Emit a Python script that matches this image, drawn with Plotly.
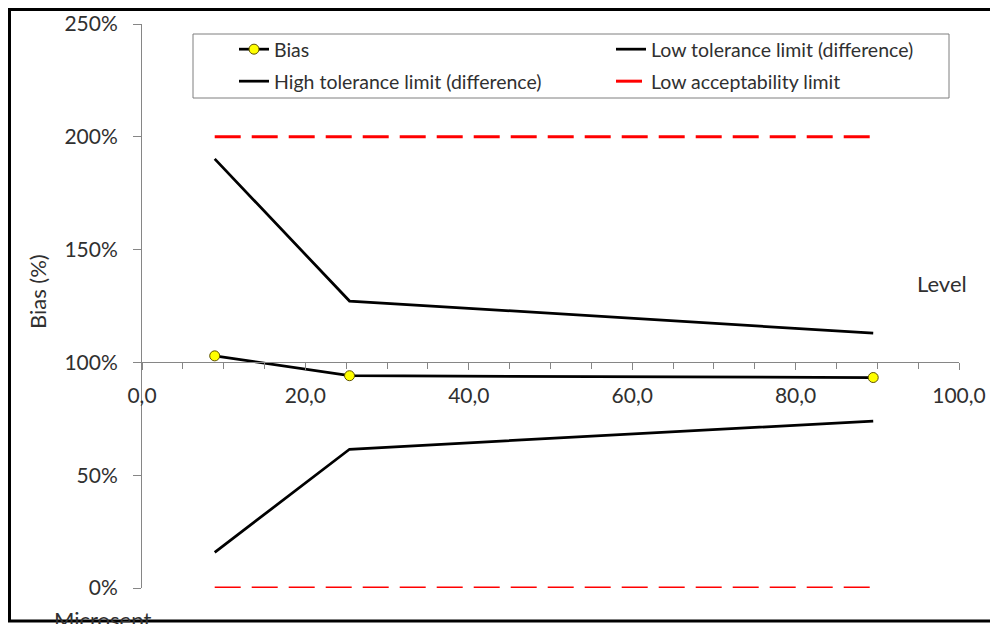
import plotly.graph_objects as go

# ---- data ----
levels = [8.9, 25.4, 89.5]
bias = [102.9, 94.1, 93.3]
high_tol = [190.2, 127.2, 113.0]
low_tol = [15.8, 61.5, 74.0]
low_acc = [0, 0, 0]
high_acc = [200, 200, 200]
x_ticks = [0, 20, 40, 60, 80, 100]
y_ticks = [0, 50, 100, 150, 200, 250]
y_tick_labels = ["0%", "50%", "100%", "150%", "200%", "250%"]

FONT = "Lato"
OFF = 8                     # page body margin
W, H = 998 - OFF, 624 - OFF
ML, MR, MT, MB = 142 - OFF, 39, 24 - OFF, 36
PW, PH = W - ML - MR, H - MT - MB


def px(xp):
    """page x pixel -> paper fraction"""
    return (xp - OFF - ML) / PW


def py(yp):
    """page y pixel -> paper fraction"""
    return (H - MB - (yp - OFF)) / PH


fig = go.Figure()
fig.add_trace(go.Scatter(
    x=levels, y=bias, name="Bias", mode="lines+markers", legend="legend",
    line=dict(color="black", width=2.75),
    marker=dict(size=10, color="#FFFF00", line=dict(color="#5e5200", width=1)),
))
fig.add_trace(go.Scatter(
    x=levels, y=low_tol, name="Low tolerance limit (difference)", mode="lines",
    legend="legend",
    line=dict(color="black", width=2.75),
))
fig.add_trace(go.Scatter(
    x=levels, y=high_tol, name="High tolerance limit (difference)", mode="lines",
    legend="legend2",
    line=dict(color="black", width=2.75),
))
fig.add_trace(go.Scatter(
    x=levels, y=low_acc, name="Low acceptability limit", mode="lines",
    legend="legend2",
    line=dict(color="#FF0000", width=3, dash="26px,11px"),
))
fig.add_trace(go.Scatter(
    x=levels, y=high_acc, name="High acceptability limit", mode="lines",
    line=dict(color="#FF0000", width=3, dash="26px,11px"), showlegend=False,
))

axis_col = "#868686"
txt_col = "#303030"

leg_common = dict(
    orientation="h", xanchor="left", yanchor="top",
    entrywidth=332, entrywidthmode="pixels",
    font=dict(size=19.5, color=txt_col, family=FONT),
    bgcolor="rgba(0,0,0,0)", borderwidth=0,
)

fig.update_layout(
    width=W, height=H,
    margin=dict(l=ML, r=MR, t=MT, b=MB, pad=0, autoexpand=False),
    paper_bgcolor="white", plot_bgcolor="white",
    separators=",.",
    font=dict(family=FONT, size=20, color=txt_col),
    xaxis=dict(
        range=[0, 100], tickvals=x_ticks, tickformat=".1f",
        showgrid=False, zeroline=False,
        showline=True, linecolor=axis_col, linewidth=1,
        ticks="outside", ticklen=7, tickcolor=axis_col,
        minor=dict(dtick=5, ticks="outside", ticklen=6, tickcolor=axis_col, showgrid=False),
        anchor="free", position=100 / 250,
        tickfont=dict(size=21, color=txt_col, family=FONT),
        ticklabelstandoff=7, automargin=False,
    ),
    yaxis=dict(
        range=[0, 250], tickvals=y_ticks, ticktext=y_tick_labels,
        showgrid=False, zeroline=False,
        showline=True, linecolor=axis_col, linewidth=1,
        ticks="outside", ticklen=8, tickcolor=axis_col,
        tickfont=dict(size=21, color=txt_col, family=FONT),
        ticklabelstandoff=11, automargin=False,
    ),
    legend=dict(x=px(234), y=py(30), **leg_common),
    legend2=dict(x=px(234), y=py(62), **leg_common),
    showlegend=True,
)

# legend box
fig.add_shape(type="rect", xref="paper", yref="paper",
              x0=px(193), x1=px(949), y0=py(98), y1=py(34),
              line=dict(color="#7f7f7f", width=1), fillcolor="white", layer="below")
# outer frame: left, top and bottom edges only (right edge lies off the picture)
fx0, fx1 = px(OFF + 1.5), px(1100)
fy0, fy1 = py(621), py(OFF + 1.5)
fig.add_shape(type="path", xref="paper", yref="paper",
              path=f"M {fx1},{fy1} L {fx0},{fy1} L {fx0},{fy0} L {fx1},{fy0}",
              line=dict(color="black", width=3), layer="above")

fig.add_annotation(text="Bias (%)", xref="paper", yref="paper",
                   x=px(37), y=py(292), textangle=-90, showarrow=False,
                   xanchor="center", yanchor="middle",
                   font=dict(size=22, color=txt_col, family=FONT))
fig.add_annotation(text="Level", xref="paper", yref="paper",
                   x=px(942), y=py(283), showarrow=False,
                   xanchor="center", yanchor="middle",
                   font=dict(size=22, color=txt_col, family=FONT))
fig.add_annotation(text="Microsept", xref="paper", yref="paper",
                   x=px(52), y=py(604), showarrow=False,
                   xanchor="left", yanchor="top",
                   font=dict(size=22, color=txt_col, family=FONT))

fig.write_html("out.html")
